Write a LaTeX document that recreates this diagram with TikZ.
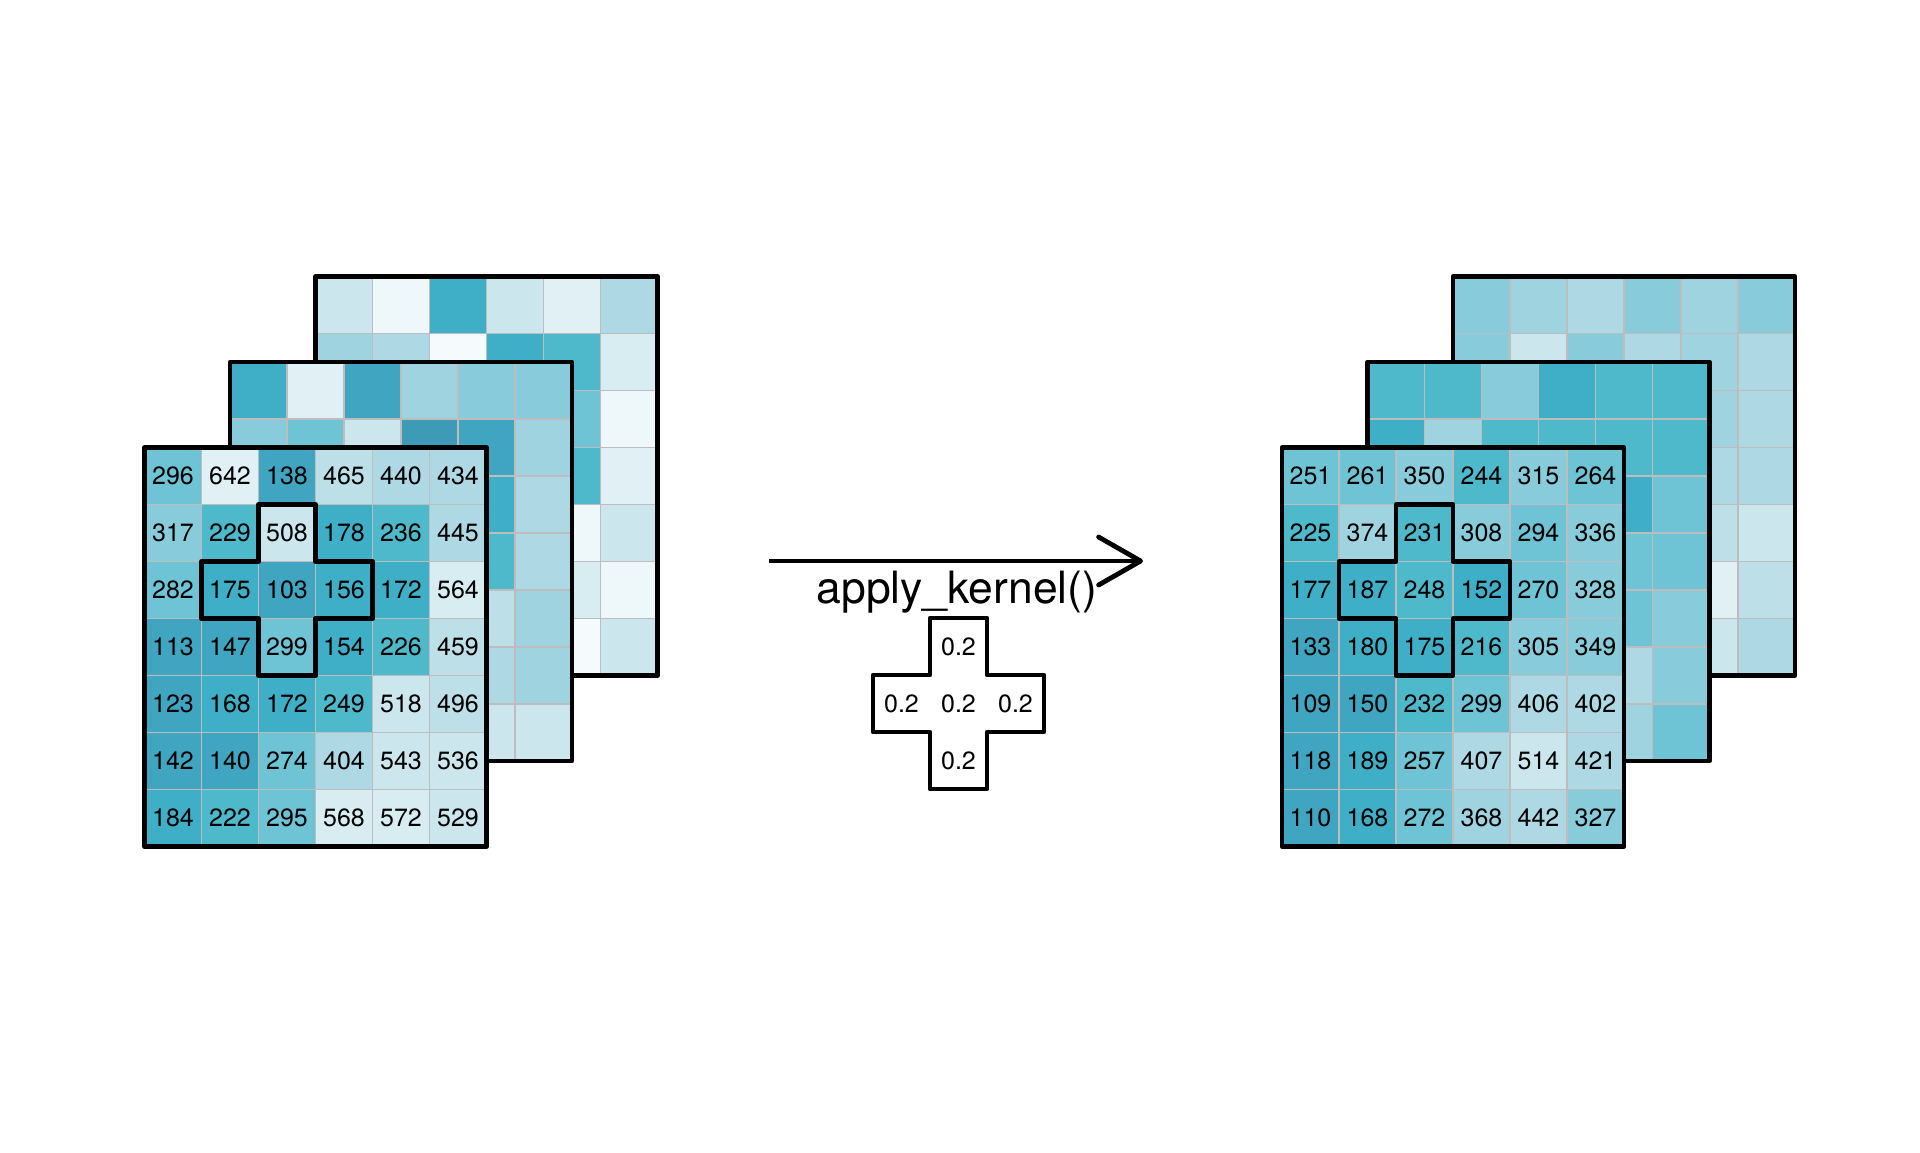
\documentclass[tikz,border=0pt]{standalone}
\usepackage{fontspec}
\setmainfont{TeX Gyre Heros}
\usetikzlibrary{arrows.meta}
\definecolor{pal2}{HTML}{3E9BB8}
\definecolor{pal3}{HTML}{3FA5C0}
\definecolor{pal4}{HTML}{3FAFC7}
\definecolor{pal5}{HTML}{4FB9CC}
\definecolor{pal6}{HTML}{6EC3D4}
\definecolor{pal7}{HTML}{88CBDA}
\definecolor{pal8}{HTML}{9FD3DF}
\definecolor{pal9}{HTML}{AED9E4}
\definecolor{pal10}{HTML}{BDE0E8}
\definecolor{pal11}{HTML}{CBE7ED}
\definecolor{pal12}{HTML}{D8EDF2}
\definecolor{pal13}{HTML}{E1F0F4}
\definecolor{pal14}{HTML}{EEF7F9}
\definecolor{pal15}{HTML}{F5FAFC}
\definecolor{gridgray}{HTML}{BDBDBD}
\begin{document}
\begin{tikzpicture}[x=1pt,y=1pt,yscale=-1,
    gridline/.style={draw=gridgray,line width=1.8pt},
    frame/.style={draw=black,line width=4.6pt,line join=round},
    num/.style={font=\fontsize{25}{30}\selectfont,inner sep=0pt},
    flow/.style={line width=4.8pt,-{Straight Barb[length=42pt,width=48pt,round]}}]
    \useasboundingbox (0,0) rectangle (1920,1152);

    % layers behind (colour classes only)
    \foreach \ox/\oy/\cells in {
        315.5/276.5/{11,14,4,11,13,9, 8,9,15,4,5,12, 9,9,9,9,6,14, 9,9,9,9,5,13, 9,9,9,9,14,11, 9,9,9,9,12,14, 9,9,9,9,15,11},
        230/362/{4,13,3,8,7,7, 7,6,11,2,3,8, 9,9,9,9,4,9, 9,9,9,9,5,9, 9,9,9,9,10,8, 9,9,9,9,9,8, 9,9,9,9,11,11},
        1453/276.5/{7,8,9,7,8,7, 7,11,7,9,8,9, 9,9,9,9,8,9, 9,9,9,9,9,9, 9,9,9,9,10,11, 9,9,9,9,13,10, 9,9,9,9,11,9},
        1367.5/362/{5,5,7,4,5,5, 4,8,5,5,5,5, 6,6,6,6,4,6, 6,6,6,6,6,6, 6,6,6,6,6,7, 6,6,6,6,9,7, 6,6,6,6,8,6}} {
        \foreach \k [count=\n from 0] in \cells {
            \pgfmathtruncatemacro\col{mod(\n,6)}
            \pgfmathtruncatemacro\row{div(\n,6)}
            \fill[pal\k] (\ox+\col*57,\oy+\row*57) rectangle ++(57,57);
        }
        \foreach \k in {1,...,5} \draw[gridline] (\ox+\k*57,\oy) -- ++(0,399);
        \foreach \k in {1,...,6} \draw[gridline] (\ox,\oy+\k*57) -- ++(342,0);
        \draw[frame] (\ox,\oy) rectangle ++(342,399);
    }

    % front layers with values
    \foreach \side/\ox/\oy/\vals in {
        in/144.5/447.5/{296,642,138,465,440,434, 317,229,508,178,236,445, 282,175,103,156,172,564, 113,147,299,154,226,459, 123,168,172,249,518,496, 142,140,274,404,543,536, 184,222,295,568,572,529},
        out/1282/447.5/{251,261,350,244,315,264, 225,374,231,308,294,336, 177,187,248,152,270,328, 133,180,175,216,305,349, 109,150,232,299,406,402, 118,189,257,407,514,421, 110,168,272,368,442,327}} {
        \foreach \v [count=\n from 0] in \vals {
            \pgfmathtruncatemacro\col{mod(\n,6)}
            \pgfmathtruncatemacro\row{div(\n,6)}
            \pgfmathtruncatemacro\k{ceil(\v/50)}
            \fill[pal\k] (\ox+\col*57,\oy+\row*57) rectangle ++(57,57);
        }
        \foreach \k in {1,...,5} \draw[gridline] (\ox+\k*57,\oy) -- ++(0,399);
        \foreach \k in {1,...,6} \draw[gridline] (\ox,\oy+\k*57) -- ++(342,0);
        \foreach \v [count=\n from 0] in \vals {
            \pgfmathtruncatemacro\col{mod(\n,6)}
            \pgfmathtruncatemacro\row{div(\n,6)}
            \node[num] (\side-\n) at (\ox+\col*57+28.5,\oy+\row*57+28.5) {\v};
        }
        % window of the kernel
        \draw[frame] (\ox+114,\oy+57) -- ++(57,0) -- ++(0,57) -- ++(57,0) -- ++(0,57) -- ++(-57,0) -- ++(0,57)
            -- ++(-57,0) -- ++(0,-57) -- ++(-57,0) -- ++(0,-57) -- ++(57,0) -- cycle;
        \draw[frame] (\ox,\oy) rectangle ++(342,399);
    }

    % kernel
    \draw[frame,fill=white] (930,618) -- ++(57,0) -- ++(0,57) -- ++(57,0) -- ++(0,57) -- ++(-57,0) -- ++(0,57)
        -- ++(-57,0) -- ++(0,-57) -- ++(-57,0) -- ++(0,-57) -- ++(57,0) -- cycle;
    \node[num] (k-top) at (958.5,646.5) {0.2};
    \node[num] (k-left) at (901.5,703.5) {0.2};
    \node[num] (k-mid) at (958.5,703.5) {0.2};
    \node[num] (k-right) at (1015.5,703.5) {0.2};
    \node[num] (k-bot) at (958.5,760.5) {0.2};

    % arrow
    \coordinate (from) at (769,561);
    \coordinate (to) at (1143,561);
    \draw[flow] (from) -- (to);
    \node[anchor=base,inner sep=0pt,font=\fontsize{44.5}{52}\selectfont] (fn) at (957,603) {apply\_kernel()};
\end{tikzpicture}
\end{document}
